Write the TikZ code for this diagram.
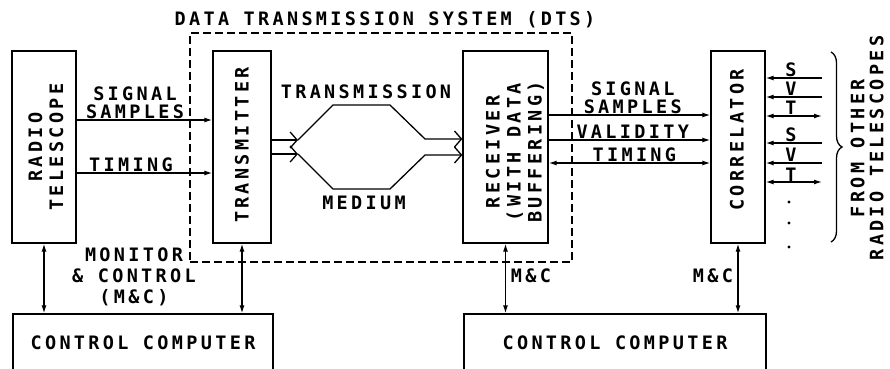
\documentclass[tikz,border=0pt]{standalone}
\usepackage{fontspec}
\newfontfamily\plotfont{DejaVu Sans Mono}[LetterSpace=18]
\usepackage{tikz}
\usetikzlibrary{arrows.meta,decorations.pathreplacing}

\begin{document}
\begin{tikzpicture}[x=1pt,y=-1pt,line width=1.3pt,
  font=\plotfont\bfseries\fontsize{18.5}{21}\selectfont,
  box/.style={draw,minimum height=192pt,inner sep=0pt},
  ccbox/.style={draw,minimum height=58pt,inner sep=0pt},
  vlbl/.style={rotate=90,align=center,inner sep=0pt},
  lbl/.style={align=center,inner sep=1pt,font=\plotfont\bfseries\fontsize{18.5}{17.5}\selectfont},
  sig/.style={-{Latex[length=8pt,width=5pt]}},
  both/.style={{Latex[length=8pt,width=5pt]}-{Latex[length=8pt,width=5pt]}},
  barb/.style={-{Straight Barb[length=7pt,width=16pt]}}]
  \useasboundingbox (0,0) rectangle (890,368);
  \clip (0,0) rectangle (890,368);

  \node[draw,dash pattern=on 8pt off 4pt,minimum width=382pt,minimum height=229pt] (dts) at (381,147.5) {};
  \node (title) at (385,20) {DATA TRANSMISSION SYSTEM (DTS)};

  \node[box,minimum width=64pt] (rt) at (44,147) {};
  \node[vlbl] at (46,147) {RADIO\\TELESCOPE};
  \node[box,minimum width=58pt] (tx) at (242,147) {};
  \node[vlbl] at (242,145) {TRANSMITTER};
  \node[box,minimum width=85pt] (rx) at (505.5,147) {};
  \node[vlbl] at (515,152) {RECEIVER\\(WITH DATA\\BUFFERING)};
  \node[box,minimum width=54pt] (cor) at (738,147) {};
  \node[vlbl] at (737,140) {CORRELATOR};

  \node[ccbox,minimum width=260pt] (cc1) at (143,343) {CONTROL COMPUTER};
  \node[ccbox,minimum width=302pt] (cc2) at (615,343) {CONTROL COMPUTER};

  \draw[sig] (rt.east|-0,120) -- node[lbl,above,pos=0.43] {SIGNAL\\SAMPLES} (tx.west|-0,120);
  \draw[sig] (rt.east|-0,173) -- node[lbl,above,pos=0.4] {TIMING} (tx.west|-0,173);

  \coordinate (m1) at (298,140);
  \coordinate (m2) at (298,154);
  \draw[barb] (tx.east|-m1) -- (m1);
  \draw[barb] (tx.east|-m2) -- (m2);
  \draw[barb] (m1) -- (333,105) -- (390,105) -- (425,139) -- (rx.west|-0,139);
  \draw[barb] (m2) -- (333,189) -- (390,189) -- (425,155) -- (rx.west|-0,155);
  \node (tm) at (366,92) {TRANSMISSION};
  \node (md) at (364,203) {MEDIUM};

  \draw[sig] (rx.east|-0,115) -- node[lbl,above,pos=0.52] {SIGNAL\\SAMPLES} (cor.west|-0,115);
  \draw[sig] (rx.east|-0,140) -- node[lbl,above,pos=0.52] {VALIDITY} (cor.west|-0,140);
  \draw[both] (rx.east|-0,163) -- node[lbl,above,pos=0.53] {TIMING} (cor.west|-0,163);

  \foreach \y/\t in {78/S,97/V,143/S,163/V}{
    \coordinate (o\y) at (822,\y);
    \draw[sig] (o\y) -- (cor.east|-o\y);
  }
  \foreach \y in {116,182}{
    \coordinate (o\y) at (822,\y);
    \draw[both] (cor.east|-o\y) -- (o\y);
  }
  \foreach \y/\t in {70/S,89/V,108/T,135/S,155/V,175/T}
    \node[inner sep=0pt] (l\y) at (791,\y) {\t};
  \foreach \y in {202,223,247}
    \fill (789,\y) circle (1.6pt);

  \draw[decorate,decoration={brace,amplitude=11pt}] (831,52) -- (831,242);
  \node[vlbl,font=\plotfont\bfseries\fontsize{18.5}{19}\selectfont] (from) at (867,148) {FROM OTHER\\RADIO TELESCOPES};

  \draw[both] (rt.south) -- (rt.south|-cc1.north);
  \draw[both] (tx.south) -- (tx.south|-cc1.north);
  \draw[both] (rx.south) -- (rx.south|-cc2.north);
  \draw[both] (cor.south) -- (cor.south|-cc2.north);
  \node[lbl,font=\plotfont\bfseries\fontsize{18.5}{21}\selectfont] (mc) at (134,277) {MONITOR\\\& CONTROL\\(M\&C)};
  \node (mc2) at (531,276) {M\&C};
  \node (mc3) at (713,276) {M\&C};
\end{tikzpicture}
\end{document}
